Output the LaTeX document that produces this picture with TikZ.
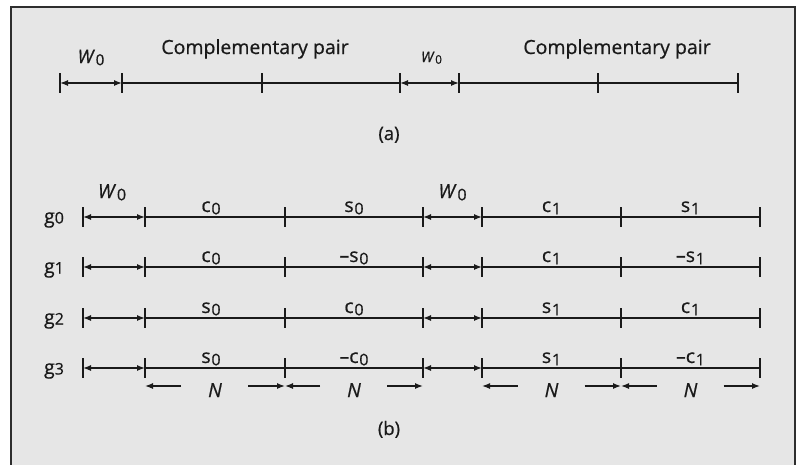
\documentclass[tikz,border=0pt]{standalone}
\usepackage{fontspec}
\setmainfont{Open Sans}[FakeBold=0.6]
\usepackage{graphicx}
\usepackage{tikz}
\usetikzlibrary{arrows.meta,calc}
\definecolor{panelbg}{HTML}{E6E6E6}
\definecolor{framegray}{HTML}{2E2E2E}
\definecolor{ink}{HTML}{1A1A1A}
\newcommand{\sig}[2]{#1\kern0.04em\raisebox{-0.22ex}{\scalebox{0.82}{#2}}}

\tikzset{
  axis/.style={draw=ink, line width=1.3pt},
  tickmark/.style={draw=ink, line width=1.3pt},
  span/.style={axis, {Latex[length=8pt,width=6pt]}-{Latex[length=8pt,width=6pt]}},
  half/.style={axis, -{Latex[length=8pt,width=6pt]}},
  lbl/.style={inner sep=0pt, anchor=base, text=ink, font=\fontsize{19.5}{22}\selectfont},
  small/.style={lbl, font=\fontsize{14.5}{17}\selectfont},
}

\begin{document}
\begin{tikzpicture}[x=1pt, y=-1pt]
    \useasboundingbox (0,0) rectangle (803,464);
    \draw[framegray, fill=panelbg, line width=1.6pt] (11,7) rectangle (795,480);

    % (a) one period of the sequence
    \foreach \k/\x in {0/60,1/122,2/262,3/400,4/459,5/598,6/738}
      \coordinate (a\k) at (\x,83);
    \draw[axis] (a1) -- (a3);
    \draw[axis] (a4) -- (a6);
    \draw[span] (a0) -- (a1);
    \draw[span] (a3) -- (a4);
    \foreach \k in {0,...,6}
      \draw[tickmark] ($(a\k)+(0,-10)$) -- ($(a\k)+(0,10)$);

    \node[lbl, font=\fontsize{18.5}{21}\selectfont] (wa1) at ($(a0)!.5!(a1)+(0,-20)$) {\sig{\textit{W}}{0}};
    \node[small] (wa2) at ($(a3)!.5!(a4)+(2,-21)$) {\sig{\textit{W}}{0}};
    \node[lbl] (pair1) at ($(a2)+(-7,-29)$) {Complementary pair};
    \node[lbl] (pair2) at ($(a5)+(19,-29)$) {Complementary pair};
    \node[lbl, font=\fontsize{18.5}{21}\selectfont] (capa) at (389,140) {(a)};

    % (b) the four sequences
    \foreach \r/\y/\la/\lb/\lc/\ld in {
        0/217/{\sig{c}{0}}/{\sig{s}{0}}/{\sig{c}{1}}/{\sig{s}{1}},
        1/267/{\sig{c}{0}}/{–\sig{s}{0}}/{\sig{c}{1}}/{–\sig{s}{1}},
        2/318/{\sig{s}{0}}/{\sig{c}{0}}/{\sig{s}{1}}/{\sig{c}{1}},
        3/368/{\sig{s}{0}}/{–\sig{c}{0}}/{\sig{s}{1}}/{–\sig{c}{1}}} {
      \foreach \k/\x in {0/83,1/145,2/285,3/423,4/482,5/621,6/760}
        \coordinate (g\r-\k) at (\x,\y);
      \draw[axis] (g\r-1) -- (g\r-3);
      \draw[axis] (g\r-4) -- (g\r-6);
      \draw[span] (g\r-0) -- (g\r-1);
      \draw[span] (g\r-3) -- (g\r-4);
      \foreach \k in {0,...,6}
        \draw[tickmark] ($(g\r-\k)+(0,-10)$) -- ($(g\r-\k)+(0,10)$);
      \node[lbl] (name\r) at ($(g\r-0)+(-29,6)$) {g\raisebox{-0.05ex}{\scalebox{0.82}{\r}}};
      \node[lbl] (la\r) at ($(g\r-1)!.5!(g\r-2)+(-4,-5)$) {\la};
      \node[lbl] (lb\r) at ($(g\r-2)!.5!(g\r-3)+(0,-5)$) {\lb};
      \node[lbl] (lc\r) at ($(g\r-4)!.5!(g\r-5)+(0,-5)$) {\lc};
      \node[lbl] (ld\r) at ($(g\r-5)!.5!(g\r-6)+(0,-5)$) {\ld};
    }

    \node[lbl] (wb1) at ($(g0-0)!.5!(g0-1)+(-2,-19)$) {\sig{\textit{W}}{0}};
    \node[lbl] (wb2) at ($(g0-3)!.5!(g0-4)+(0,-19)$) {\sig{\textit{W}}{0}};

    % length N under each half
    \foreach \i/\p/\q in {0/1/2,1/2/3,2/4/5,3/5/6} {
      \coordinate (m\i) at ($(g3-\p)!.5!(g3-\q)+(0,18)$);
      \node[lbl, font=\fontsize{19.5}{22}\itshape] (n\i) at ($(m\i)+(0,11)$) {N};
      \draw[half] ($(m\i)+(-34,0)$) -- (m\i -| g3-\p);
      \draw[half] ($(m\i)+(33,0)$) -- (m\i -| g3-\q);
    }

    \node[lbl, font=\fontsize{18.5}{21}\selectfont] (capb) at (389,435) {(b)};
  \end{tikzpicture}
\end{document}
